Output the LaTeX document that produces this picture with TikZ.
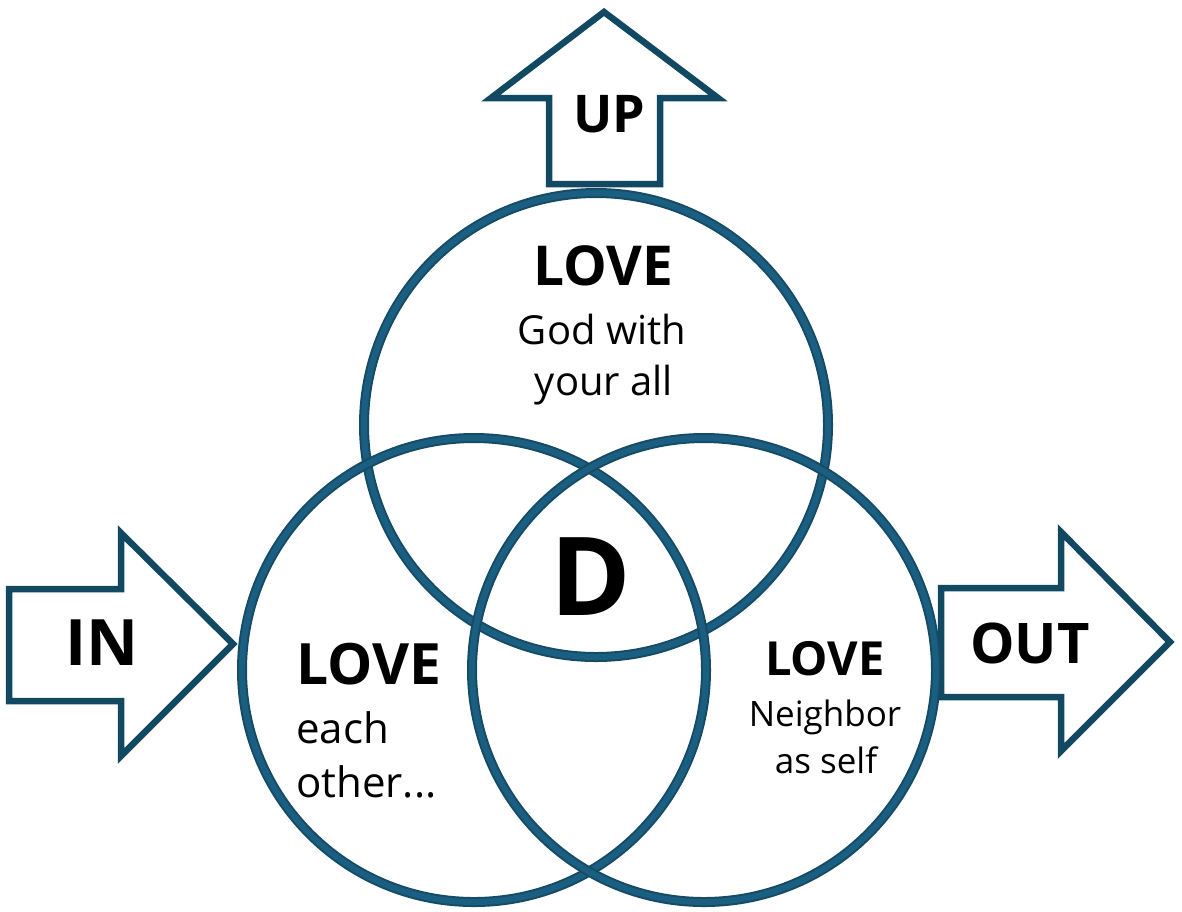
\documentclass[tikz,border=0pt]{standalone}
\usepackage{fontspec}
\setmainfont{Open Sans}
\definecolor{ringdark}{HTML}{164B64}
\definecolor{ring}{HTML}{1A5F82}
\definecolor{arrowc}{HTML}{124962}
\tikzset{
  ring/.style={circle, inner sep=0pt, minimum size=464pt, draw=ringdark, line width=10pt},
  ringin/.style={circle, inner sep=0pt, minimum size=464pt, draw=ring, line width=6pt},
  bigarrow/.style={draw=arrowc, line width=6.5pt, fill=white, line join=miter, miter limit=10},
  lbl/.style={anchor=base, inner sep=0pt, text=black},
}
\begin{document}
\begin{tikzpicture}[x=1pt,y=-1pt]
\useasboundingbox (0,0) rectangle (1182,911);
% arrows
\draw[bigarrow] (604,12) -- (718,98) -- (660,98) -- (660,184) -- (549,184) -- (549,98) -- (491,98) -- cycle;
\draw[bigarrow] (9,589) -- (121,589) -- (121,533) -- (233,644) -- (121,756) -- (121,701) -- (9,701) -- cycle;
\draw[bigarrow] (941,588) -- (1061,588) -- (1061,532) -- (1170,642) -- (1061,751) -- (1061,697) -- (941,697) -- cycle;
% circles
\foreach \n/\p in {top/{(596,425)}, left/{(474,670)}, right/{(704,670)}}{
  \node[ring] (\n) at \p {};
  \node[ringin] (\n-in) at \p {};
}
% texts
\node[lbl, font=\bfseries\fontsize{52}{52}\selectfont] (up) at (609,132) {UP};
\node[lbl, font=\bfseries\fontsize{64}{64}\selectfont] (in) at (102,665) {IN};
\node[lbl, font=\bfseries\fontsize{56}{56}\selectfont] (out) at (1030,663) {OUT};
\node[lbl, font=\bfseries\fontsize{55}{55}\selectfont] (t1) at (603,285) {LOVE};
\node[lbl, font=\fontsize{40}{40}\selectfont] (t2) at (602,344) {God with};
\node[lbl, font=\fontsize{40}{40}\selectfont] (t3) at (604,395) {your all};
\node[lbl, font=\bfseries\fontsize{109}{109}\selectfont] (d) at (591,615) {D};
\node[lbl, anchor=base west, font=\bfseries\fontsize{57}{57}\selectfont] (l1) at (296,684) {LOVE};
\node[lbl, anchor=base west, font=\fontsize{42}{42}\selectfont] (l2) at (296,743) {each};
\node[lbl, anchor=base west, font=\fontsize{42}{42}\selectfont] (l3) at (296,797) {other...};
\node[lbl, font=\bfseries\fontsize{47}{47}\selectfont] (r1) at (825,675) {LOVE};
\node[lbl, font=\fontsize{35}{35}\selectfont] (r2) at (825,726) {Neighbor};
\node[lbl, font=\fontsize{35}{35}\selectfont] (r3) at (826,773) {as self};
\end{tikzpicture}
\end{document}
